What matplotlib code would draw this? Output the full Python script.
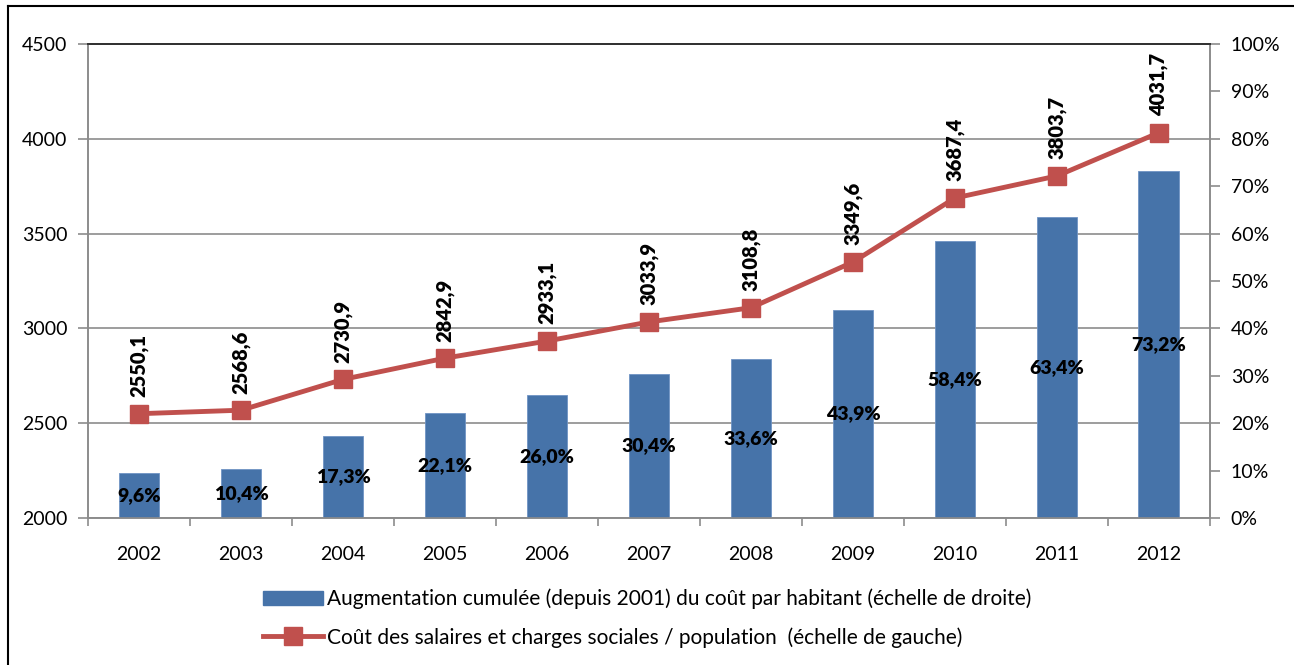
import matplotlib.pyplot as plt
import matplotlib.lines as mlines
import matplotlib.patches as mpatches
import numpy as np

plt.rcParams['font.family'] = ['Lato', 'DejaVu Sans']

years = ['2002', '2003', '2004', '2005', '2006', '2007', '2008', '2009', '2010', '2011', '2012']
augmentation = [9.6, 10.4, 17.3, 22.1, 26.0, 30.4, 33.6, 43.9, 58.4, 63.4, 73.2]
cout = [2550.1, 2568.6, 2730.9, 2842.9, 2933.1, 3033.9, 3108.8, 3349.6, 3687.4, 3803.7, 4031.7]

bar_label = "Augmentation cumulée (depuis 2001) du coût par habitant (échelle de droite)"
line_label = "Coût des salaires et charges sociales / population  (échelle de gauche)"

blue = '#4673A9'
red = '#C0504D'
grid = '#8C8C8C'

def fr(v, fmt):
    return fmt.format(v).replace('.', ',')

fig = plt.figure(figsize=(12.94, 6.65), dpi=100)
ax = fig.add_axes([0.068, 0.221, 0.867, 0.713])
ax2 = ax.twinx()

x = np.arange(len(years))

# bars on right axis (percent)
ax2.bar(x, augmentation, width=0.4, color=blue, edgecolor='#6F93C4', linewidth=0.6, zorder=2)
ax2.set_ylim(0, 100)
ax2.set_yticks(np.arange(0, 101, 10))
ax2.set_yticklabels([f'{v}%' for v in range(0, 101, 10)])
for xi, v in zip(x, augmentation):
    ax2.text(xi, v / 2, fr(v, '{:.1f}') + '%', ha='center', va='center',
             fontsize=14, fontweight='heavy', color='black', zorder=5)

# line on left axis
ax.set_ylim(2000, 4500)
ax.set_yticks(np.arange(2000, 4501, 500))
ax.set_xlim(-0.5, len(years) - 0.5)
ax.yaxis.grid(True, color=grid, linewidth=1.2)
ax.set_axisbelow(True)

# extra overlay axes so the line sits above the bars
ax3 = ax2.twinx()
ax2.yaxis.tick_right()
ax2.yaxis.set_label_position('right')
ax3.set_ylim(2000, 4500)
ax3.axis('off')
ax3.plot(x, cout, color=red, linewidth=3.5, marker='s', markersize=13, zorder=4)
for xi, v in zip(x, cout):
    ax3.annotate(fr(v, '{:.1f}'), (xi, v), xytext=(0, 12), textcoords='offset points',
                 rotation=90, ha='center', va='bottom', fontsize=14.5, fontweight='heavy')

# x axis: ticks between categories
ax.set_xticks(x)
ax.set_xticklabels(years, fontsize=14)
ax.set_xticks(np.arange(-0.5, len(years), 1), minor=True)
ax.tick_params(axis='x', which='major', length=0, pad=20)
ax.tick_params(axis='x', which='minor', length=6, color=grid, width=1.2)
ax.tick_params(axis='y', length=7, color=grid, width=1.2, labelsize=14, pad=8)
ax2.tick_params(axis='y', length=7, color=grid, width=1.2, labelsize=14, pad=8)

for a in (ax, ax2):
    for s in ('left', 'right', 'bottom'):
        a.spines[s].set_color(grid)
        a.spines[s].set_linewidth(1.2)
    a.spines['top'].set_color('#333333')
    a.spines['top'].set_linewidth(1.4)

# legend below
h_bar = mpatches.Patch(color=blue)
h_line = mlines.Line2D([], [], color=red, linewidth=3.5, marker='s', markersize=13)
fig.legend([h_bar, h_line], [bar_label, line_label], loc='upper center',
           bbox_to_anchor=(0.5, 0.143), frameon=False, fontsize=15,
           handlelength=2.9, handletextpad=0.15, labelspacing=0.85)

# outer frame (top and left edges visible)
fig.add_artist(mlines.Line2D([8 / 1294, 1.0], [1 - 6 / 665, 1 - 6 / 665], color='black', linewidth=1.5))
fig.add_artist(mlines.Line2D([8 / 1294, 8 / 1294], [0.0, 1 - 6 / 665], color='black', linewidth=1.5))

fig.savefig('out.png', dpi=100)
